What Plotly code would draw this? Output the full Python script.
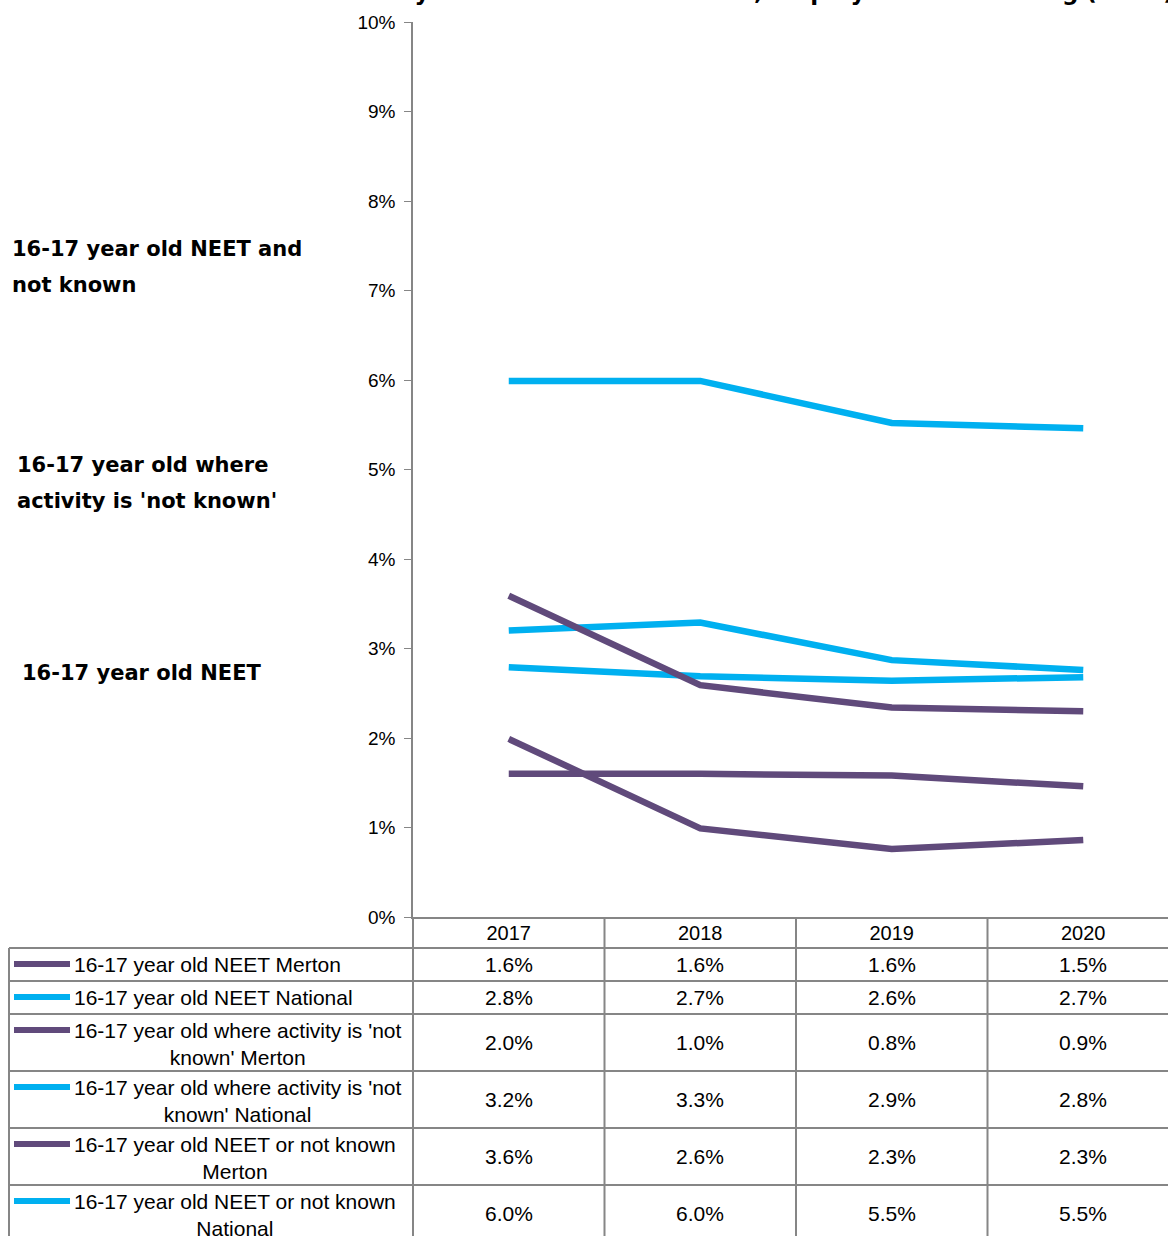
import plotly.graph_objects as go

# data
years = ["2017", "2018", "2019", "2020"]
series_names = [
    "16-17 year old NEET Merton",
    "16-17 year old NEET National",
    "16-17 year old where activity is 'not<br>known' Merton",
    "16-17 year old where activity is 'not<br>known' National",
    "16-17 year old NEET or not known<br>Merton",
    "16-17 year old NEET or not known<br>National",
]
neet_merton = [1.60, 1.60, 1.58, 1.46]
neet_national = [2.79, 2.69, 2.64, 2.68]
notknown_merton = [1.99, 0.99, 0.76, 0.86]
notknown_national = [3.20, 3.29, 2.87, 2.76]
neet_or_nk_merton = [3.59, 2.59, 2.34, 2.30]
neet_or_nk_national = [5.99, 5.99, 5.52, 5.46]
series_values = [neet_merton, neet_national, notknown_merton,
                 notknown_national, neet_or_nk_merton, neet_or_nk_national]

side_labels = [
    ("16-17 year old NEET and", "not known"),
    ("16-17 year old where", "activity is 'not known'"),
    ("16-17 year old NEET",),
]
side_label_pos = [7.26, 4.85, 2.73]  # % level where each text box sits

title_text = "16-17 year olds not in education, employment or training (NEET)"

PURPLE = "#604A7B"
CYAN = "#00B0F0"
GREY = "#868686"
colors = [PURPLE, CYAN, PURPLE, CYAN, PURPLE, CYAN]

W, H = 1168, 1236
plot_left = 413          # px where the value axis sits
axis_bottom = 917        # px of 0%
axis_top = 22            # px of 10%
col_w = 191.5            # px per year column
x_right = -0.5 + (W - plot_left) / col_w
table_h = H - axis_bottom

ARIAL = "Liberation Sans, Arial, sans-serif"
BOLD = "DejaVu Sans, sans-serif"

fig = go.Figure()

for name, vals, c in zip(series_names, series_values, colors):
    fig.add_trace(go.Scatter(
        x=years, y=[v / 100 for v in vals], mode="lines",
        name=name.replace("<br>", " "),
        line=dict(color=c, width=6.5),
        showlegend=False, xaxis="x", yaxis="y",
    ))

# ---- data table under the chart (own axes, pixel rows) ----
header_h = 31
row_tops = []
y_cur = header_h
for name in series_names:
    nlines = name.count("<br>") + 1
    h = 9 + 24 * nlines
    row_tops.append((y_cur, y_cur + h))
    y_cur += h

tbl_left = -0.5 - (plot_left - 9) / col_w
key_x0 = -0.5 - (plot_left - 14) / col_w
key_x1 = -0.5 - (plot_left - 70) / col_w
text_x = -0.5 - (plot_left - 72) / col_w

shapes = []
line_style = dict(color=GREY, width=2)
# vertical separators
shapes.append(dict(type="line", xref="x2", yref="y2", x0=tbl_left, x1=tbl_left,
                   y0=header_h, y1=y_cur, line=line_style))
for i in range(len(years)):
    xv = i - 0.5
    shapes.append(dict(type="line", xref="x2", yref="y2", x0=xv, x1=xv,
                       y0=0, y1=y_cur, line=line_style))
# horizontal separators
for top, bottom in row_tops:
    shapes.append(dict(type="line", xref="x2", yref="y2", x0=tbl_left, x1=len(years),
                       y0=top, y1=top, line=line_style))

annotations = []
for (top, bottom), name, vals, c in zip(row_tops, series_names, series_values, colors):
    mid = (top + bottom) / 2
    shapes.append(dict(type="line", xref="x2", yref="y2", x0=key_x0, x1=key_x1,
                       y0=top + 16, y1=top + 16, line=dict(color=c, width=6)))
    annotations.append(dict(
        x=text_x, y=top + 3, xref="x2", yref="y2", xanchor="left", yanchor="top",
        text=name, align="center", showarrow=False,
        font=dict(family=ARIAL, size=21, color="black")))
    for i, v in enumerate(vals):
        annotations.append(dict(
            x=i, y=mid, xref="x2", yref="y2", text=f"{v:.1f}%", showarrow=False,
            font=dict(family=ARIAL, size=21, color="black")))

# side labels
for lines, pos, xp in zip(side_labels, side_label_pos, [10, 15, 20]):
    n = len(lines)
    for k, ln in enumerate(lines):
        annotations.append(dict(
            x=xp / W, y=pos / 100, xref="paper", yref="y", xanchor="left",
            yshift=(n - 1) * 18 - k * 36, text=f"<b>{ln}</b>", showarrow=False,
            font=dict(family=BOLD, size=21, color="black")))

# title (cut off at the top of the image)
annotations.append(dict(
    x=331 / W, y=1 + 8 / H, xref="paper", yref="paper", xanchor="left",
    yanchor="middle", text=f"<b>{title_text}</b>", showarrow=False,
    font=dict(family=BOLD, size=23, color="black")))

fig.update_layout(
    width=W, height=H,
    margin=dict(l=0, r=0, t=0, b=0, autoexpand=False),
    paper_bgcolor="white", plot_bgcolor="rgba(0,0,0,0)",
    xaxis=dict(domain=[plot_left / W, 1], type="category", range=[-0.5, x_right],
               showline=True, linecolor=GREY, linewidth=2, ticks="",
               showgrid=False, zeroline=False, anchor="y", automargin=False,
               ticklabelstandoff=-3,
               tickfont=dict(family=ARIAL, size=20, color="black")),
    yaxis=dict(domain=[table_h / H, (H - axis_top) / H], range=[0, 0.1],
               dtick=0.01, tickformat=".0%", ticks="outside", ticklen=7,
               tickcolor=GREY, showline=True, linecolor=GREY, linewidth=1.5,
               showgrid=False, zeroline=False, anchor="x", automargin=False,
               ticklabelstandoff=5,
               tickfont=dict(family=ARIAL, size=19, color="black")),
    xaxis2=dict(domain=[0, 1], range=[-0.5 - plot_left / col_w, x_right],
                visible=False, anchor="y2", automargin=False),
    yaxis2=dict(domain=[0, table_h / H], range=[table_h, 0], visible=False,
                anchor="x2", automargin=False),
    shapes=shapes,
    annotations=annotations,
)

# the page body has an 8px margin by default; drop it so the chart fills the window
fig.write_html("out.html", config={"displayModeBar": False},
               post_script="document.body.style.margin = '0';")
